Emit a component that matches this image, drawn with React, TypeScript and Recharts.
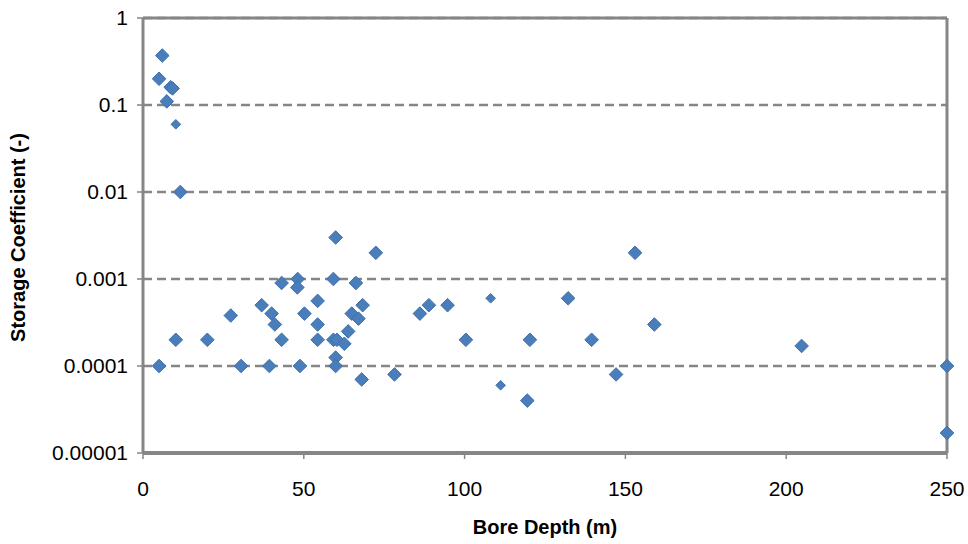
import React from "react";
import { ScatterChart, Scatter, XAxis, YAxis, CartesianGrid, ReferenceLine } from "recharts";

const AXIS_GREY = "#868686";
const MARKER_BLUE = "#4A7EBB";
const FONT = "'Liberation Sans', Arial, sans-serif";

// bore depth (m) / storage coefficient (-) - regular markers
const depthLarge = [
    5.0, 6.0, 7.4, 8.6, 9.2, 11.6,
    59.9, 72.4, 43.1, 48.1, 48.0, 59.2, 66.2, 36.9, 54.3, 68.3,
    27.3, 40.0, 50.2, 64.9, 67.0, 41.0, 54.3, 63.8,
    10.2, 20.0, 43.1, 54.3, 59.2, 60.3, 62.6, 59.9,
    5.0, 30.5, 39.3, 48.8, 59.9, 68.0, 78.2,
    86.1, 88.9, 94.7, 100.4, 120.3, 119.5, 132.2, 139.5, 147.1, 153.0, 159.0,
    204.8, 250, 250,
];
const storageLarge = [
    0.2, 0.37, 0.11, 0.16, 0.155, 0.01,
    0.003, 0.002, 0.0009, 0.001, 0.0008, 0.001, 0.0009, 0.0005, 0.00056, 0.0005,
    0.00038, 0.0004, 0.0004, 0.0004, 0.00035, 0.0003, 0.0003, 0.00025,
    0.0002, 0.0002, 0.0002, 0.0002, 0.0002, 0.0002, 0.00018, 0.000125,
    0.0001, 0.0001, 0.0001, 0.0001, 0.0001, 0.00007, 0.00008,
    0.0004, 0.0005, 0.0005, 0.0002, 0.0002, 0.00004, 0.0006, 0.0002, 0.00008, 0.002, 0.0003,
    0.00017, 0.0001, 0.000017,
];

// smaller markers
const depthSmall = [10.2, 108.1, 111.2];
const storageSmall = [0.06, 0.0006, 0.00006];

const xTicks = [0, 50, 100, 150, 200, 250];
const yTicks = [0.00001, 0.0001, 0.001, 0.01, 0.1, 1];
const yTickLabels = ["0.00001", "0.0001", "0.001", "0.01", "0.1", "1"];

const largeData = depthLarge.map((x, i) => ({ x, y: storageLarge[i] }));
const smallData = depthSmall.map((x, i) => ({ x, y: storageSmall[i] }));

function diamond(half: number) {
    return (props: any) => {
        const { cx, cy } = props;
        if (cx == null || cy == null) return <g />;
        return (
            <path
                d={`M${cx},${cy - half} L${cx + half},${cy} L${cx},${cy + half} L${cx - half},${cy} Z`}
                fill={MARKER_BLUE}
                stroke="#3F70AC"
                strokeWidth={1}
                strokeLinejoin="round"
            />
        );
    };
}

const XTitle = ({ viewBox }: any) => (
    <text
        x={viewBox.x + viewBox.width / 2}
        y={534}
        textAnchor="middle"
        fontFamily={FONT}
        fontSize={20}
        fontWeight="bold"
        fill="#000"
    >
        Bore Depth (m)
    </text>
);

const YTitle = ({ viewBox }: any) => {
    const cy = viewBox.y + viewBox.height / 2 + 2;
    return (
        <text
            x={25}
            y={cy}
            transform={`rotate(-90, 25, ${cy})`}
            textAnchor="middle"
            fontFamily={FONT}
            fontSize={20}
            fontWeight="bold"
            fill="#000"
        >
            Storage Coefficient (-)
        </text>
    );
};

export default function App() {
    return (
        <div style={{ position: "absolute", left: 0, top: 0, width: 968, height: 544, background: "#fff" }}>
            <ScatterChart width={968} height={544} margin={{ top: 18, right: 21, bottom: 0, left: 0 }}>
                <CartesianGrid
                    vertical={false}
                    stroke={AXIS_GREY}
                    strokeWidth={2.5}
                    strokeDasharray="9 5"
                />
                <XAxis
                    type="number"
                    dataKey="x"
                    domain={[0, 250]}
                    ticks={xTicks}
                    height={91}
                    tickSize={6}
                    tickMargin={22}
                    tick={{ fill: "#000", fontSize: 21, fontFamily: FONT }}
                    tickLine={{ stroke: AXIS_GREY, strokeWidth: 1.5 }}
                    axisLine={{ stroke: AXIS_GREY, strokeWidth: 4 }}
                    label={<XTitle />}
                />
                <YAxis
                    type="number"
                    dataKey="y"
                    scale="log"
                    domain={[0.00001, 1]}
                    allowDataOverflow
                    ticks={yTicks}
                    tickFormatter={(v: number) => yTickLabels[yTicks.indexOf(v)] ?? String(v)}
                    width={143}
                    tickSize={6}
                    tickMargin={9}
                    tick={{ fill: "#000", fontSize: 21, fontFamily: FONT }}
                    tickLine={{ stroke: AXIS_GREY, strokeWidth: 1.5 }}
                    axisLine={{ stroke: AXIS_GREY, strokeWidth: 3 }}
                    label={<YTitle />}
                />
                <ReferenceLine y={1} stroke={AXIS_GREY} strokeWidth={3} />
                <ReferenceLine x={250} stroke={AXIS_GREY} strokeWidth={3} />
                <Scatter data={largeData} shape={diamond(6.8)} isAnimationActive={false} />
                <Scatter data={smallData} shape={diamond(4.8)} isAnimationActive={false} />
            </ScatterChart>
        </div>
    );
}
